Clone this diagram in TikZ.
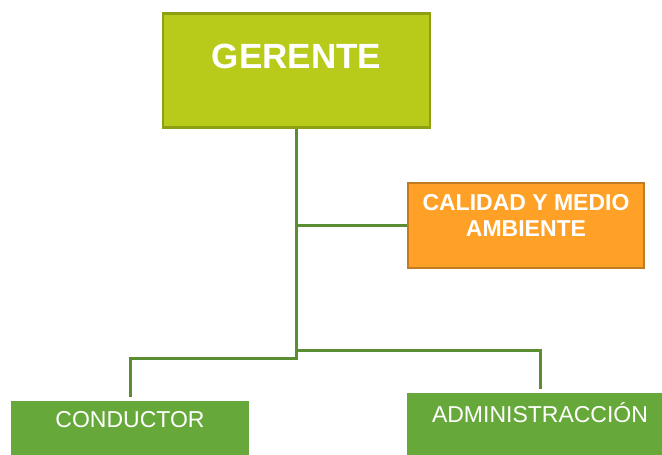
\documentclass[tikz,border=0pt]{standalone}
\usepackage{fontspec}
\setmainfont{Liberation Sans}
\usetikzlibrary{calc}

\definecolor{boss fill}{HTML}{B9CB1A}
\definecolor{boss line}{HTML}{8E9F12}
\definecolor{staff fill}{HTML}{FFA126}
\definecolor{staff line}{HTML}{C27B25}
\definecolor{unit fill}{HTML}{67A83B}
\definecolor{link green}{HTML}{5B8D32}

\begin{document}
\begin{tikzpicture}[x=1pt,y=-1pt,
    box/.style={rectangle,inner sep=0pt,text=white,anchor=north},
    link/.style={link green,line width=3pt}]
  \useasboundingbox (0,0) rectangle (662,455);
  \clip (0,0) rectangle (662,455);

  \node[box,fill=boss fill,draw=boss line,line width=2.5pt,minimum width=267pt,
        text height=55pt,text depth=59pt,font=\bfseries\fontsize{35}{40}\selectfont]
        (gerente) at (296.5,12) {GERENTE};
  \node[box,fill=staff fill,draw=staff line,line width=2pt,minimum width=236pt,
        align=center,text height=53pt,text depth=32pt,font=\bfseries\fontsize{23}{26}\selectfont]
        (calidad) at (526,182) {CALIDAD Y MEDIO\\AMBIENTE};
  \node[box,fill=unit fill,minimum width=238pt,text height=26pt,text depth=80pt,
        font=\fontsize{23}{28}\selectfont]
        (conductor) at (130,401) {CONDUCTOR};
  \node[box,fill=unit fill,minimum width=266pt,text height=29pt,text depth=80pt,
        font=\fontsize{23}{28}\selectfont]
        (admin) at (540,393) {ADMINISTRACCIÓN};

  \coordinate (hub left) at (296.5,358);
  \coordinate (hub right) at (296.5,350);

  \draw[link,shorten >=4pt] (gerente.south) -- (hub left) -| (conductor.north);
  \draw[link,shorten >=4pt] (hub right) -| (admin.north);
  \draw[link] (calidad.west) -| (hub right);
\end{tikzpicture}
\end{document}
